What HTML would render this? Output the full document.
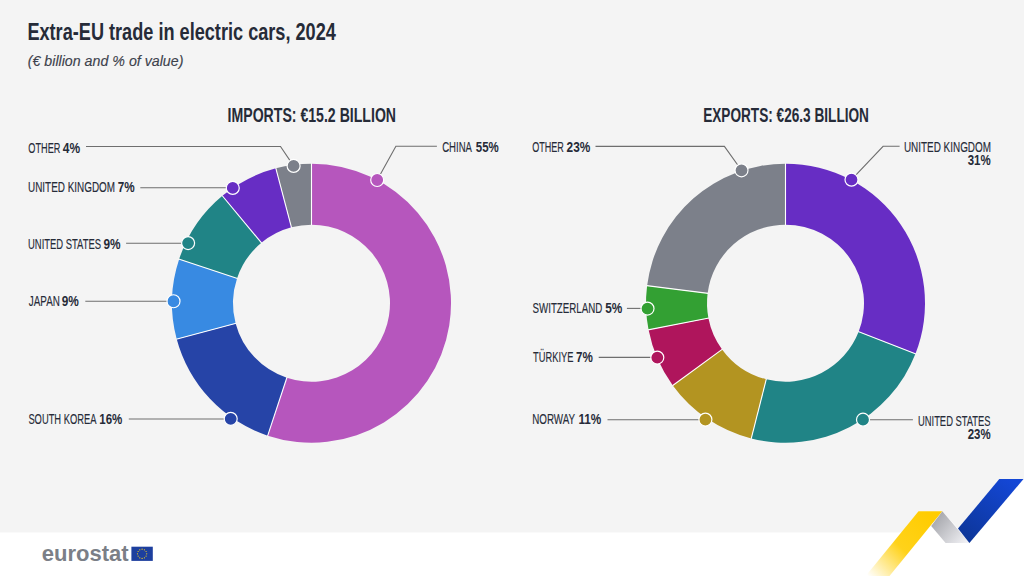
<!DOCTYPE html>
<html><head><meta charset="utf-8"><style>
html,body{margin:0;padding:0;background:#f4f4f4;overflow:hidden;}
svg{display:block;font-family:"Liberation Sans",sans-serif;}
</style></head><body>
<svg width="1024" height="576" viewBox="0 0 1024 576">
<rect x="0" y="0" width="1024" height="576" fill="#f4f4f4"/>
<path d="M0,532.4 L901.3,532.4 L918.5,511.3 L942.3,511.3 L958,528.6 L999.3,479 L1024,479 L1024,576 L0,576 Z" fill="#ffffff"/>
<path d="M311.50,163.70 A139.5,139.5 0 1 1 267.70,435.64 L286.85,377.73 A78.5,78.5 0 1 0 311.50,224.70 Z" fill="#b656bd"/>
<path d="M267.70,435.64 A139.5,139.5 0 0 1 176.69,339.07 L235.64,323.38 A78.5,78.5 0 0 0 286.85,377.73 Z" fill="#2644a7"/>
<path d="M176.69,339.07 A139.5,139.5 0 0 1 179.13,259.17 L237.01,278.42 A78.5,78.5 0 0 0 235.64,323.38 Z" fill="#388ae2"/>
<path d="M179.13,259.17 A139.5,139.5 0 0 1 222.39,195.87 L261.36,242.80 A78.5,78.5 0 0 0 237.01,278.42 Z" fill="#208486"/>
<path d="M222.39,195.87 A139.5,139.5 0 0 1 275.87,168.33 L291.45,227.30 A78.5,78.5 0 0 0 261.36,242.80 Z" fill="#672dc4"/>
<path d="M275.87,168.33 A139.5,139.5 0 0 1 311.50,163.70 L311.50,224.70 A78.5,78.5 0 0 0 291.45,227.30 Z" fill="#7c808a"/>
<line x1="311.50" y1="225.20" x2="311.50" y2="163.20" stroke="#fff" stroke-width="1.1"/>
<line x1="287.01" y1="377.26" x2="267.54" y2="436.12" stroke="#fff" stroke-width="1.1"/>
<line x1="236.12" y1="323.26" x2="176.21" y2="339.20" stroke="#fff" stroke-width="1.1"/>
<line x1="237.49" y1="278.58" x2="178.66" y2="259.01" stroke="#fff" stroke-width="1.1"/>
<line x1="261.68" y1="243.19" x2="222.07" y2="195.48" stroke="#fff" stroke-width="1.1"/>
<line x1="291.58" y1="227.79" x2="275.74" y2="167.84" stroke="#fff" stroke-width="1.1"/>
<path d="M785.50,163.70 A139.5,139.5 0 0 1 915.47,353.87 L858.64,331.72 A78.5,78.5 0 0 0 785.50,224.70 Z" fill="#672dc4"/>
<path d="M915.47,353.87 A139.5,139.5 0 0 1 751.28,438.44 L766.24,379.30 A78.5,78.5 0 0 0 858.64,331.72 Z" fill="#208486"/>
<path d="M751.28,438.44 A139.5,139.5 0 0 1 672.79,385.39 L722.07,349.45 A78.5,78.5 0 0 0 766.24,379.30 Z" fill="#b39421"/>
<path d="M672.79,385.39 A139.5,139.5 0 0 1 648.56,329.82 L708.44,318.18 A78.5,78.5 0 0 0 722.07,349.45 Z" fill="#af155c"/>
<path d="M648.56,329.82 A139.5,139.5 0 0 1 647.10,285.72 L707.62,293.36 A78.5,78.5 0 0 0 708.44,318.18 Z" fill="#33a033"/>
<path d="M647.10,285.72 A139.5,139.5 0 0 1 785.50,163.70 L785.50,224.70 A78.5,78.5 0 0 0 707.62,293.36 Z" fill="#7c808a"/>
<line x1="785.50" y1="225.20" x2="785.50" y2="163.20" stroke="#fff" stroke-width="1.1"/>
<line x1="858.17" y1="331.53" x2="915.94" y2="354.06" stroke="#fff" stroke-width="1.1"/>
<line x1="766.37" y1="378.82" x2="751.16" y2="438.92" stroke="#fff" stroke-width="1.1"/>
<line x1="722.48" y1="349.16" x2="672.38" y2="385.69" stroke="#fff" stroke-width="1.1"/>
<line x1="708.93" y1="318.08" x2="648.07" y2="329.91" stroke="#fff" stroke-width="1.1"/>
<line x1="708.12" y1="293.42" x2="646.60" y2="285.65" stroke="#fff" stroke-width="1.1"/>
<polyline points="86,146.5 280.5,146.5 293.6,165.9" fill="none" stroke="#6e6e6e" stroke-width="1.1"/>
<circle cx="293.6" cy="165.9" r="6.5" fill="#7c808a" stroke="#fff" stroke-width="1.2"/>
<polyline points="436.9,146.3 395.9,146.3 377.2,180" fill="none" stroke="#6e6e6e" stroke-width="1.1"/>
<circle cx="377.2" cy="180" r="6.5" fill="#b656bd" stroke="#fff" stroke-width="1.2"/>
<polyline points="140.3,187.75 232.75,187.75" fill="none" stroke="#6e6e6e" stroke-width="1.1"/>
<circle cx="232.75" cy="187.9" r="6.5" fill="#672dc4" stroke="#fff" stroke-width="1.2"/>
<polyline points="126.1,243.2 188.1,243.2" fill="none" stroke="#6e6e6e" stroke-width="1.1"/>
<circle cx="188.1" cy="243.1" r="6.5" fill="#208486" stroke="#fff" stroke-width="1.2"/>
<polyline points="85.3,301.3 173.3,301.3" fill="none" stroke="#6e6e6e" stroke-width="1.1"/>
<circle cx="173.5" cy="301.25" r="6.5" fill="#388ae2" stroke="#fff" stroke-width="1.2"/>
<polyline points="128.8,419 230.7,419" fill="none" stroke="#6e6e6e" stroke-width="1.1"/>
<circle cx="230.7" cy="418.8" r="6.5" fill="#2644a7" stroke="#fff" stroke-width="1.2"/>
<polyline points="595.5,146.4 724.4,146.4 741.5,170.3" fill="none" stroke="#6e6e6e" stroke-width="1.1"/>
<circle cx="741.5" cy="170.3" r="6.5" fill="#7c808a" stroke="#fff" stroke-width="1.2"/>
<polyline points="899.6,146.3 883.1,146.3 851.5,179.7" fill="none" stroke="#6e6e6e" stroke-width="1.1"/>
<circle cx="851.5" cy="179.7" r="6.5" fill="#672dc4" stroke="#fff" stroke-width="1.2"/>
<polyline points="626.9,308.4 647.5,308.4" fill="none" stroke="#6e6e6e" stroke-width="1.1"/>
<circle cx="647.5" cy="308.6" r="6.5" fill="#33a033" stroke="#fff" stroke-width="1.2"/>
<polyline points="598.7,357.4 657.3,357.4" fill="none" stroke="#6e6e6e" stroke-width="1.1"/>
<circle cx="657.3" cy="357.6" r="6.5" fill="#af155c" stroke="#fff" stroke-width="1.2"/>
<polyline points="607.5,419.7 705.4,419.7" fill="none" stroke="#6e6e6e" stroke-width="1.1"/>
<circle cx="705.4" cy="419.6" r="6.5" fill="#b39421" stroke="#fff" stroke-width="1.2"/>
<polyline points="912.9,419.8 863,419.8" fill="none" stroke="#6e6e6e" stroke-width="1.1"/>
<circle cx="863" cy="419.7" r="6.5" fill="#208486" stroke="#fff" stroke-width="1.2"/>
<text x="27.39" y="40.3" font-size="23.6" textLength="308.51" lengthAdjust="spacingAndGlyphs" fill="#262b38" font-weight="bold">Extra-EU trade in electric cars, 2024</text>
<text x="27.73" y="66.4" font-size="15.5" textLength="155.71" lengthAdjust="spacingAndGlyphs" fill="#3d424c" font-style="italic" stroke="#3d424c" stroke-width="0.15">(€ billion and % of value)</text>
<text x="227.56" y="122.1" font-size="20.3" textLength="168.5" lengthAdjust="spacingAndGlyphs" fill="#262b38" font-weight="bold">IMPORTS: €15.2 BILLION</text>
<text x="703.14" y="122.1" font-size="20.3" textLength="165.83" lengthAdjust="spacingAndGlyphs" fill="#262b38" font-weight="bold">EXPORTS: €26.3 BILLION</text>
<text x="28.37" y="152.6" font-size="15.5" textLength="32.06" lengthAdjust="spacingAndGlyphs" fill="#262b38" stroke="#262b38" stroke-width="0.15">OTHER</text>
<text x="62.82" y="152.6" font-size="15.5" textLength="17.3" lengthAdjust="spacingAndGlyphs" fill="#262b38" font-weight="bold">4%</text>
<text x="442.21" y="152.3" font-size="15.5" textLength="29.81" lengthAdjust="spacingAndGlyphs" fill="#262b38" stroke="#262b38" stroke-width="0.15">CHINA</text>
<text x="475.75" y="152.3" font-size="15.5" textLength="22.96" lengthAdjust="spacingAndGlyphs" fill="#262b38" font-weight="bold">55%</text>
<text x="28.03" y="192.3" font-size="15.5" textLength="87.08" lengthAdjust="spacingAndGlyphs" fill="#262b38" stroke="#262b38" stroke-width="0.15">UNITED KINGDOM</text>
<text x="117.7" y="192.3" font-size="15.5" textLength="16.91" lengthAdjust="spacingAndGlyphs" fill="#262b38" font-weight="bold">7%</text>
<text x="28.07" y="249.3" font-size="15.5" textLength="72.96" lengthAdjust="spacingAndGlyphs" fill="#262b38" stroke="#262b38" stroke-width="0.15">UNITED STATES</text>
<text x="103.39" y="249.3" font-size="15.5" textLength="17.12" lengthAdjust="spacingAndGlyphs" fill="#262b38" font-weight="bold">9%</text>
<text x="28.85" y="305.6" font-size="15.5" textLength="31.06" lengthAdjust="spacingAndGlyphs" fill="#262b38" stroke="#262b38" stroke-width="0.15">JAPAN</text>
<text x="61.79" y="305.6" font-size="15.5" textLength="17.12" lengthAdjust="spacingAndGlyphs" fill="#262b38" font-weight="bold">9%</text>
<text x="28.38" y="423.6" font-size="15.5" textLength="68.04" lengthAdjust="spacingAndGlyphs" fill="#262b38" stroke="#262b38" stroke-width="0.15">SOUTH KOREA</text>
<text x="99.28" y="423.6" font-size="15.5" textLength="23.03" lengthAdjust="spacingAndGlyphs" fill="#262b38" font-weight="bold">16%</text>
<text x="532.17" y="152.4" font-size="15.5" textLength="31.65" lengthAdjust="spacingAndGlyphs" fill="#262b38" stroke="#262b38" stroke-width="0.15">OTHER</text>
<text x="566.59" y="152.4" font-size="15.5" textLength="23.72" lengthAdjust="spacingAndGlyphs" fill="#262b38" font-weight="bold">23%</text>
<text x="903.93" y="151.6" font-size="15.5" textLength="87.08" lengthAdjust="spacingAndGlyphs" fill="#262b38" stroke="#262b38" stroke-width="0.15">UNITED KINGDOM</text>
<text x="967.74" y="164.9" font-size="15.5" textLength="22.97" lengthAdjust="spacingAndGlyphs" fill="#262b38" font-weight="bold">31%</text>
<text x="532.56" y="312.8" font-size="15.5" textLength="69.71" lengthAdjust="spacingAndGlyphs" fill="#262b38" stroke="#262b38" stroke-width="0.15">SWITZERLAND</text>
<text x="605.24" y="312.8" font-size="15.5" textLength="17.07" lengthAdjust="spacingAndGlyphs" fill="#262b38" font-weight="bold">5%</text>
<text x="533.09" y="361.8" font-size="15.5" textLength="40.31" lengthAdjust="spacingAndGlyphs" fill="#262b38" stroke="#262b38" stroke-width="0.15">TÜRKIYE</text>
<text x="576.1" y="361.8" font-size="15.5" textLength="16.81" lengthAdjust="spacingAndGlyphs" fill="#262b38" font-weight="bold">7%</text>
<text x="532.2" y="424.4" font-size="15.5" textLength="42.82" lengthAdjust="spacingAndGlyphs" fill="#262b38" stroke="#262b38" stroke-width="0.15">NORWAY</text>
<text x="578.46" y="424.4" font-size="15.5" textLength="22.85" lengthAdjust="spacingAndGlyphs" fill="#262b38" font-weight="bold">11%</text>
<text x="917.98" y="425.6" font-size="15.5" textLength="72.65" lengthAdjust="spacingAndGlyphs" fill="#262b38" stroke="#262b38" stroke-width="0.15">UNITED STATES</text>
<text x="967.7" y="439.35" font-size="15.5" textLength="22.9" lengthAdjust="spacingAndGlyphs" fill="#262b38" font-weight="bold">23%</text>
<text x="41.74" y="561.3" font-size="22.5" textLength="86.93" lengthAdjust="spacingAndGlyphs" fill="#7b7f87" font-weight="bold">eurostat</text>
<rect x="131.4" y="546.7" width="21.4" height="14.2" fill="#1d3f9e"/>
<circle cx="142.10" cy="549.20" r="0.6" fill="#ffd617"/>
<circle cx="144.40" cy="549.82" r="0.6" fill="#ffd617"/>
<circle cx="146.08" cy="551.50" r="0.6" fill="#ffd617"/>
<circle cx="146.70" cy="553.80" r="0.6" fill="#ffd617"/>
<circle cx="146.08" cy="556.10" r="0.6" fill="#ffd617"/>
<circle cx="144.40" cy="557.78" r="0.6" fill="#ffd617"/>
<circle cx="142.10" cy="558.40" r="0.6" fill="#ffd617"/>
<circle cx="139.80" cy="557.78" r="0.6" fill="#ffd617"/>
<circle cx="138.12" cy="556.10" r="0.6" fill="#ffd617"/>
<circle cx="137.50" cy="553.80" r="0.6" fill="#ffd617"/>
<circle cx="138.12" cy="551.50" r="0.6" fill="#ffd617"/>
<circle cx="139.80" cy="549.82" r="0.6" fill="#ffd617"/>
<defs>
<linearGradient id="gy" gradientUnits="userSpaceOnUse" x1="868" y1="576" x2="930" y2="515">
<stop offset="0" stop-color="#ffffff"/>
<stop offset="0.5" stop-color="#ffd21a"/>
<stop offset="1" stop-color="#ffcc00"/>
</linearGradient>
<linearGradient id="gg" gradientUnits="userSpaceOnUse" x1="935" y1="520" x2="965" y2="545">
<stop offset="0" stop-color="#a9aaaf"/>
<stop offset="1" stop-color="#f2f2f6"/>
</linearGradient>
<linearGradient id="gb" gradientUnits="userSpaceOnUse" x1="1010" y1="479" x2="965" y2="543">
<stop offset="0" stop-color="#1447d6"/>
<stop offset="1" stop-color="#0c3596"/>
</linearGradient>
</defs>
<path d="M918.5,511.3 L942.3,511.3 L889.5,576 L865.7,576 Z" fill="url(#gy)"/>
<path d="M942.3,511.3 L969.4,543.1 L945.6,543.1 L931.2,526 Z" fill="url(#gg)"/>
<path d="M999.3,479 L1023.5,479 L969.4,543.1 L958,528.6 Z" fill="url(#gb)"/>
</svg>
</body></html>
